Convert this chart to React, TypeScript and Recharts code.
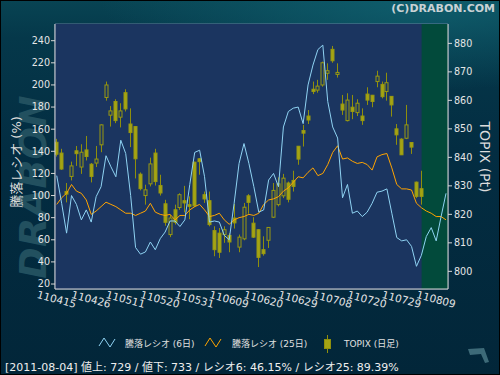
import React from "react";
import { ComposedChart, Line, Bar, XAxis, YAxis, CartesianGrid, ReferenceArea } from "recharts";

// trading-day index of each x tick and its label
const tickIndex = [0, 7, 14, 21, 28, 35, 42, 49, 56, 63, 70, 77];
const tickLabels = ["110415", "110426", "110511", "110520", "110531", "110609", "110620", "110629", "110708", "110720", "110729", "110809"];

const ratioTicks = [20, 40, 60, 80, 100, 120, 140, 160, 180, 200, 220, 240];
const topixTicks = [800, 810, 820, 830, 840, 850, 860, 870, 880];

// 騰落レシオ (6日)
const ratio6 = [
  118, 93, 66, 100, 92, 78, 87, 76, 99, 108, 136, 126, 117, 150, 138, 100, 53, 47, 49, 58,
  51, 61, 67, 77, 77, 72, 78, 110, 139, 141, 117, 76, 77, 76, 64, 60, 93, 129, 147, 129,
  108, 85, 87, 114, 120, 108, 162, 176, 179, 180, 165, 200, 218, 232, 236, 185, 162, 152, 98, 110,
  84, 86, 81, 85, 93, 103, 104, 106, 84, 62, 59, 60, 54, 36, 46, 63, 71, 59, 81, 102,
];

// 騰落レシオ (25日)
const ratio25 = [
  92, 98, 102, 110, 104, 102, 96, 83, 86, 90, 94, 92, 90, 87, 84, 84, 82, 84, 86, 93,
  85, 83, 82, 83, 78, 82, 82, 87, 90, 92, 87, 81, 82, 84, 78, 74, 78, 80, 81, 83,
  82, 84, 92, 96, 97, 99, 104, 107, 112, 117, 116, 121, 125, 118, 120, 128, 139, 145, 133, 134,
  131, 129, 130, 128, 123, 135, 137, 138, 125, 110, 106, 106, 105, 93, 89, 86, 84, 81, 81, 78,
];

// TOPIX daily candles
const topixOpen = [
  845.3, 841.5, 828.0, 833.3, 842.3, 836.6, 842.6, 837.6, 838.0, 844.4, 861.0, 854.8, 859.6, 854.1, 862.7,
  851.7, 850.8, 834.1, 826.6, 830.7, 841.5, 830.1, 823.7, 812.9, 821.6, 822.4, 824.8, 823.4, 838.3, 839.5,
  826.9, 824.8, 814.3, 813.4, 812.9, 812.6, 818.7, 808.5, 811.4, 826.5, 816.9, 814.6, 807.6, 810.9, 819.0,
  823.4, 826.5, 831.0, 831.9, 843.9, 849.4, 854.5, 863.9, 863.6, 865.4, 869.5, 877.9, 869.1, 858.7, 852.9,
  857.6, 855.7, 854.5, 862.2, 861.8, 866.6, 865.6, 863.1, 861.4, 850.0, 846.4, 846.7, 845.2, 831.3, 829.0,
];
const topixHigh = [
  846.5, 843.0, 831.0, 838.5, 844.0, 844.6, 847.5, 838.0, 844.0, 851.6, 866.6, 858.0, 860.4, 859.0, 863.9,
  857.2, 851.0, 834.7, 830.4, 839.9, 843.0, 833.9, 825.1, 819.9, 823.4, 827.4, 830.0, 826.3, 838.5, 839.7,
  828.0, 828.0, 815.8, 815.2, 815.8, 813.4, 823.7, 812.9, 824.0, 827.1, 819.0, 814.8, 812.3, 815.5, 831.0,
  833.0, 834.2, 831.5, 835.3, 844.0, 851.4, 856.6, 866.6, 867.2, 873.6, 873.0, 879.1, 873.0, 861.9, 862.5,
  861.9, 860.4, 857.2, 864.6, 861.9, 870.4, 866.6, 869.7, 861.5, 851.7, 846.7, 858.4, 845.3, 831.5, 835.3,
];
const topixLow = [
  840.3, 835.6, 824.2, 831.9, 837.0, 834.2, 838.9, 831.2, 836.6, 841.8, 859.9, 850.8, 852.0, 850.5, 856.1,
  843.6, 832.6, 828.4, 823.4, 829.8, 830.1, 826.6, 816.0, 812.0, 816.4, 821.6, 820.7, 818.3, 822.5, 833.9,
  824.0, 815.8, 805.3, 804.7, 810.0, 806.7, 815.0, 806.7, 810.9, 820.2, 811.7, 801.5, 805.5, 808.2, 818.7,
  822.8, 825.7, 824.2, 828.0, 837.4, 843.8, 851.7, 862.2, 862.7, 864.8, 867.2, 873.2, 868.0, 854.9, 852.6,
  853.4, 854.5, 851.4, 858.4, 857.6, 864.6, 860.7, 859.9, 854.3, 844.4, 840.8, 846.4, 841.2, 825.7, 823.4,
];
const topixClose = [
  841.1, 835.9, 827.1, 837.0, 841.3, 841.8, 840.3, 833.3, 839.4, 851.4, 865.4, 856.3, 852.9, 856.3, 857.0,
  848.7, 839.5, 829.0, 828.6, 837.7, 831.5, 827.5, 817.2, 818.7, 817.2, 826.9, 824.0, 822.8, 823.0, 838.5,
  825.4, 816.4, 807.6, 806.7, 814.6, 810.3, 817.0, 812.0, 822.5, 824.2, 812.0, 804.9, 806.2, 815.4, 828.4,
  830.7, 832.7, 825.3, 829.8, 839.4, 848.5, 853.1, 863.1, 865.0, 873.2, 870.4, 873.9, 869.8, 856.6, 860.1,
  856.1, 859.0, 852.9, 860.1, 859.6, 868.5, 861.3, 866.2, 858.4, 847.9, 840.9, 851.4, 843.6, 826.3, 826.3,
];

const PLOT_BG = "#1b3560";

const rows = ratio6.map((v, i) => ({
  i,
  r6: v,
  r25: ratio25[i],
  o: topixOpen[i],
  h: topixHigh[i],
  l: topixLow[i],
  c: topixClose[i],
  hl: i < topixHigh.length ? [topixLow[i], topixHigh[i]] : null,
}));

function Candle(props: any) {
  const { x, y, width, height, payload } = props;
  if (!payload || payload.h == null || !isFinite(y) || !isFinite(height)) return null;
  const { o, h, l, c } = payload;
  const top = Math.min(y, y + height);
  const hgt = Math.abs(height);
  const ppu = hgt / (h - l);
  const cx = Math.round(x + width / 2) + 0.5;
  const bTop = top + (h - Math.max(o, c)) * ppu;
  const bBot = top + (h - Math.min(o, c)) * ppu;
  const up = c > o;
  return (
    <g>
      <line x1={cx} x2={cx} y1={top} y2={top + hgt} stroke="#8f8f0c" strokeWidth={1} />
      <rect
        x={cx - 1.5}
        y={bTop}
        width={3}
        height={Math.max(1.5, bBot - bTop)}
        fill={up ? PLOT_BG : "#a4a414"}
        stroke="#9a9a10"
        strokeWidth={1}
      />
    </g>
  );
}

function XTick(props: any) {
  const { x, y, payload } = props;
  const k = tickIndex.indexOf(payload.value);
  const cy = y + 10;
  return (
    <text
      x={x}
      y={cy}
      transform={`rotate(15 ${x} ${cy})`}
      textAnchor="middle"
      dominantBaseline="central"
      fill="#e4e4e4"
      fontSize={10.5}
      fontFamily="DejaVu Sans"
    >
      {tickLabels[k]}
    </text>
  );
}

const font = "DejaVu Sans, Noto Sans CJK JP";

export default function App() {
  return (
    <div style={{ position: "absolute", left: 0, top: 0, width: 500, height: 375, overflow: "hidden" }}>
      <div
        style={{
          position: "absolute",
          inset: 0,
          background:
            "radial-gradient(ellipse 320px 90px at 420px 0px, #0f5d6c 0%, rgba(15,93,108,0) 100%), linear-gradient(180deg, #084453 0%, #05384a 10%, #032d42 40%, #022639 100%)",
        }}
      />
      <svg width={500} height={375} style={{ position: "absolute", left: 0, top: 0 }}>
        <text
          x={33}
          y={187}
          transform="rotate(-90 33 187)"
          textAnchor="middle"
          dominantBaseline="central"
          fontFamily="DejaVu Sans"
          fontWeight="bold"
          fontStyle="italic"
          fontSize={38}
          fill="#22505f"
        >
          DRABON
        </text>
      </svg>
      <div style={{ position: "absolute", left: 0, top: 0 }}>
        <ComposedChart width={500} height={375} data={rows} margin={{ top: 24, right: 0, bottom: 56, left: 0 }}>
          <ReferenceArea yAxisId="ratio" x1={-0.35} x2={79.4} fill={PLOT_BG} fillOpacity={1} stroke="none" />
          <ReferenceArea yAxisId="ratio" x1={74.05} x2={79.4} fill="#024a3b" fillOpacity={1} stroke="none" />
          <CartesianGrid yAxisId="ratio" stroke="#7d8db0" strokeOpacity={0.75} />
          <XAxis
            dataKey="i"
            type="number"
            domain={[-0.35, 79.4]}
            allowDataOverflow
            ticks={tickIndex}
            interval={0}
            tick={<XTick />}
            tickLine={false}
            tickSize={0}
            tickMargin={0}
            height={30}
            axisLine={{ stroke: "#d6d6d6" }}
          />
          <YAxis
            yAxisId="ratio"
            domain={[15.5, 255.1]}
            allowDataOverflow
            ticks={ratioTicks}
            interval={0}
            width={55}
            tickSize={4}
            tickMargin={1}
            tick={{ fill: "#e6e6e6", fontSize: 9.6, fontFamily: "DejaVu Sans" }}
            tickLine={{ stroke: "#d6d6d6" }}
            axisLine={{ stroke: "#d6d6d6" }}
          />
          <YAxis
            yAxisId="topix"
            orientation="right"
            domain={[793.8, 886.8]}
            allowDataOverflow
            ticks={topixTicks}
            interval={0}
            width={52}
            tickSize={4}
            tickMargin={2}
            tick={{ fill: "#e6e6e6", fontSize: 9.6, fontFamily: "DejaVu Sans" }}
            tickLine={{ stroke: "#d6d6d6" }}
            axisLine={{ stroke: "#d6d6d6" }}
          />
          <Bar yAxisId="topix" dataKey="hl" barSize={4} shape={<Candle />} isAnimationActive={false} />
          <Line yAxisId="ratio" type="linear" dataKey="r25" stroke="#ffa400" strokeWidth={1} dot={false} isAnimationActive={false} />
          <Line yAxisId="ratio" type="linear" dataKey="r6" stroke="#8fd3f3" strokeWidth={1} dot={false} isAnimationActive={false} />
        </ComposedChart>
      </div>
      <svg width={500} height={375} style={{ position: "absolute", left: 0, top: 0, pointerEvents: "none" }}>
        <text x={495} y={12} textAnchor="end" fontFamily="DejaVu Sans" fontWeight="bold" fontSize={11} fill="#c9d2d5">
          (C)DRABON.COM
        </text>
        <text
          x={16}
          y={162}
          transform="rotate(-90 16 162)"
          textAnchor="middle"
          dominantBaseline="central"
          fontFamily={font}
          fontSize={13}
          fill="#dcdcdc"
        >
          騰落レシオ (%)
        </text>
        <text
          x={485}
          y={157}
          transform="rotate(90 485 157)"
          textAnchor="middle"
          dominantBaseline="central"
          fontFamily={font}
          fontSize={14}
          fill="#dcdcdc"
        >
          TOPIX (Pt)
        </text>
        {/* legend */}
        <polyline points="99,346 104,338 110,347 115,339" fill="none" stroke="#8fd3f3" strokeWidth={1} />
        <text x={125} y={347} fontFamily={font} fontSize={9} fill="#e0e0e0">騰落レシオ (6日)</text>
        <polyline points="205,346 210,338 216,347 221,339" fill="none" stroke="#ffa400" strokeWidth={1} />
        <text x={232} y={347} fontFamily={font} fontSize={9} fill="#e0e0e0">騰落レシオ (25日)</text>
        <line x1={327.5} x2={327.5} y1={335} y2={353} stroke="#8f8f0c" />
        <rect x={324.5} y={339.5} width={6} height={9} fill="#a4a414" stroke="#8f8f0c" />
        <text x={344} y={347} fontFamily={font} fontSize={9} fill="#e0e0e0">TOPIX (日足)</text>
        {/* status line */}
        <text x={5} y={371} fontFamily={font} fontSize={11} fill="#eeeeee">
          [2011-08-04]  値上: 729 / 値下: 733 / レシオ6: 46.15% / レシオ25: 89.39%
        </text>
        <path d="M468,349 L484,348 L489,362 L485,363 L481,354 L470,355 Z" fill="#3d6a78" />
        <rect x={0.5} y={0.5} width={499} height={374} fill="none" stroke="#000" />
      </svg>
    </div>
  );
}
